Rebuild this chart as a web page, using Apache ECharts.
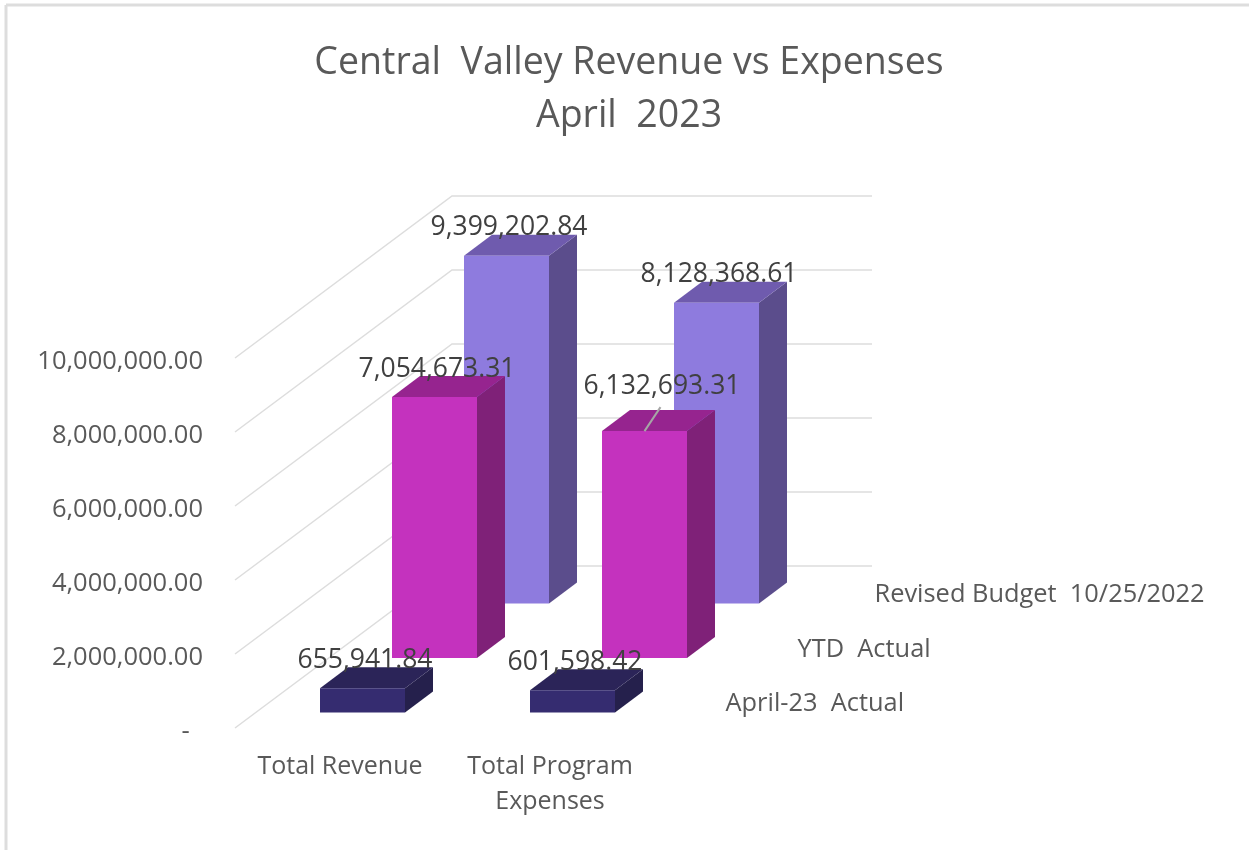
<!DOCTYPE html>
<html>
<head>
<meta charset="utf-8">
<title>Central Valley Revenue vs Expenses</title>
<script src="https://cdn.jsdelivr.net/npm/echarts@6/dist/echarts.min.js"></script>
<style>
  html, body { margin: 0; padding: 0; background: #fff; }
  #chart { width: 1249px; height: 850px; }
</style>
</head>
<body>
<div id="chart"></div>
<script>
const categories = ['Total Revenue', 'Total Program\nExpenses'];
const rowNames = ['April-23  Actual', 'YTD  Actual', 'Revised Budget  10/25/2022'];
const aprilActual = [655941.84, 601598.42];
const ytdActual = [7054673.31, 6132693.31];
const revisedBudget = [9399202.84, 8128368.61];
const yTicks = [0, 2000000, 4000000, 6000000, 8000000, 10000000];

// 3d look: every row is pushed back on screen by a fixed pixel step
const ROW_DX = 72, ROW_DY = -54.5;
const FLOOR_DX = 217, FLOOR_DY = -162;
const BAR_DX = 28, BAR_DY = -21;
const BAR_W = 85;
const FIRST_DX = 22.5, FIRST_DY = -15.5;

const FONT = '"Open Sans", sans-serif';
const rows = [
  { values: aprilActual, front: '#352C70', top: '#2B2458', side: '#25204C' },
  { values: ytdActual, front: '#C432BE', top: '#96248F', side: '#7F2178' },
  { values: revisedBudget, front: '#8E7BDE', top: '#6F5BAE', side: '#5B4D8C' }
];

// label nudges, [dx, dy] from the default spot above the bar
const labelNudge = { '1-1': [15, -17] };
const rowNameNudge = [0, 0, 5];

function fmt(v) {
  return v.toLocaleString('en-US', { minimumFractionDigits: 2, maximumFractionDigits: 2 });
}

function rowOrigin(r) {
  return [FIRST_DX + r * ROW_DX, FIRST_DY + r * ROW_DY];
}

function renderGrid(params, api) {
  const p = api.coord([0, api.value(0)]);
  const left = params.coordSys.x;
  const width = params.coordSys.width;
  return {
    type: 'polyline',
    shape: { points: [
      [left, p[1]],
      [left + FLOOR_DX, p[1] + FLOOR_DY],
      [left + FLOOR_DX + width, p[1] + FLOOR_DY]
    ] },
    style: { stroke: '#DDDDDD', lineWidth: 1.5, fill: 'none' }
  };
}

function renderBar(r) {
  return function (params, api) {
    const o = rowOrigin(r);
    const base = api.coord([api.value(0), 0]);
    const head = api.coord([api.value(0), api.value(1)]);
    const x0 = base[0] + o[0] - BAR_W / 2;
    const x1 = x0 + BAR_W;
    const y0 = base[1] + o[1];
    const y1 = head[1] + o[1];
    const c = rows[r];
    return {
      type: 'group',
      children: [
        { type: 'polygon',
          shape: { points: [[x1, y0], [x1 + BAR_DX, y0 + BAR_DY], [x1 + BAR_DX, y1 + BAR_DY], [x1, y1]] },
          style: { fill: c.side } },
        { type: 'polygon',
          shape: { points: [[x0, y1], [x1, y1], [x1 + BAR_DX, y1 + BAR_DY], [x0 + BAR_DX, y1 + BAR_DY]] },
          style: { fill: c.top } },
        { type: 'rect',
          shape: { x: x0, y: y1, width: BAR_W, height: y0 - y1 },
          style: { fill: c.front } }
      ]
    };
  };
}

function renderValueLabel(r) {
  return function (params, api) {
    const o = rowOrigin(r);
    const head = api.coord([api.value(0), api.value(1)]);
    const cx = head[0] + o[0];
    const topY = head[1] + o[1];
    const n = labelNudge[r + '-' + api.value(0)] || [0, 0];
    const children = [{
      type: 'text',
      x: cx + 2.5 + n[0],
      y: topY - 28 + n[1],
      style: {
        text: fmt(api.value(1)), fill: '#404040', font: '26.5px ' + FONT,
        align: 'center', verticalAlign: 'middle'
      }
    }];
    if (n[1] !== 0) {
      // leader line for the label that got moved off its bar
      children.push({
        type: 'line',
        shape: { x1: cx, y1: topY, x2: cx + 16, y2: topY - 24 },
        style: { stroke: '#A6A6A6', lineWidth: 2 }
      });
    }
    return { type: 'group', children: children };
  };
}

function renderRowName(params, api) {
  const r = params.dataIndex;
  const right = params.coordSys.x + params.coordSys.width;
  const y0 = api.coord([0, 0])[1];
  const o = rowOrigin(r);
  return {
    type: 'text',
    x: right + o[0] + 48 + rowNameNudge[r],
    y: y0 + o[1] - 8.5,
    style: {
      text: rowNames[r], fill: '#595959', font: '25.4px ' + FONT,
      align: 'left', verticalAlign: 'middle'
    }
  };
}

const series = [
  {
    type: 'custom', z: 1, silent: true,
    data: yTicks.map(t => [t]),
    encode: { y: 0 },
    renderItem: renderGrid
  }
];
// rows back to front so the nearer bars cover the farther ones
[2, 1, 0].forEach(r => {
  series.push({
    type: 'custom', z: 2 + (2 - r), silent: true,
    data: rows[r].values.map((v, i) => [i, v]),
    encode: { x: 0, y: 1 },
    renderItem: renderBar(r)
  });
});
[2, 1, 0].forEach(r => {
  series.push({
    type: 'custom', z: 6, silent: true,
    data: rows[r].values.map((v, i) => [i, v]),
    encode: { x: 0, y: 1 },
    renderItem: renderValueLabel(r)
  });
});
series.push({
  type: 'custom', z: 6, silent: true,
  data: rowNames.map((n, i) => [i]),
  renderItem: renderRowName
});

const chart = echarts.init(document.getElementById('chart'));
chart.setOption({
  backgroundColor: '#fff',
  animation: false,
  title: {
    text: 'Central  Valley Revenue vs Expenses\nApril  2023',
    left: 624, top: 32, textAlign: 'center',
    textStyle: { fontFamily: FONT, fontSize: 37.5, fontWeight: 'normal', color: '#595959', lineHeight: 53 }
  },
  grid: { left: 235, top: 358, width: 420, height: 370 },
  xAxis: {
    type: 'category', data: categories,
    axisLine: { show: false }, axisTick: { show: false }, splitLine: { show: false },
    axisLabel: {
      interval: 0, margin: 21, color: '#595959',
      fontFamily: FONT, fontSize: 25, lineHeight: 35.5
    }
  },
  yAxis: {
    type: 'value', min: 0, max: 10000000, interval: 2000000,
    axisLine: { show: false }, axisTick: { show: false }, splitLine: { show: false },
    axisLabel: {
      margin: 32, color: '#595959', fontFamily: FONT, fontSize: 25.5,
      // rich box with top padding: moves the text a few px under the tick
      formatter: v => '{t|' + (v === 0 ? '-  ' : fmt(v)) + '}',
      rich: { t: { padding: [8, 0, 0, 0], fontFamily: FONT, fontSize: 25.5, color: '#595959' } }
    }
  },
  series: series,
  graphic: [
    { type: 'line', silent: true, shape: { x1: 6, y1: 5, x2: 1249, y2: 5 }, style: { stroke: '#DDDDDD', lineWidth: 3 } },
    { type: 'line', silent: true, shape: { x1: 6, y1: 5, x2: 6, y2: 850 }, style: { stroke: '#DDDDDD', lineWidth: 3 } }
  ]
});

window.addEventListener('resize', () => chart.resize());
</script>
</body>
</html>
